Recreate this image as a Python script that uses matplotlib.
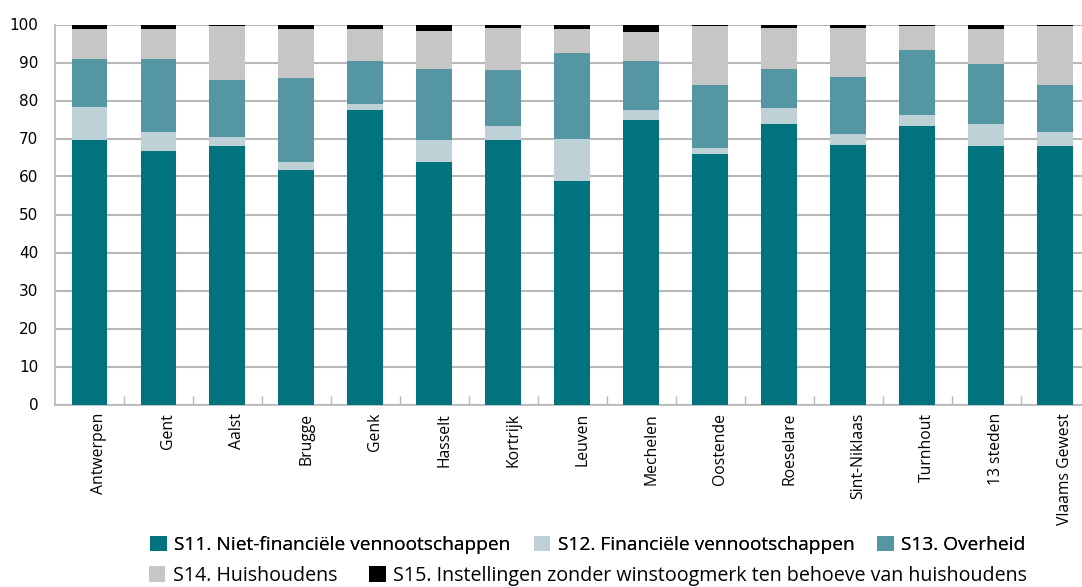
import matplotlib.pyplot as plt
import matplotlib.transforms as mtransforms
import numpy as np

# Data (share in %)
cities = ['Antwerpen', 'Gent', 'Aalst', 'Brugge', 'Genk', 'Hasselt', 'Kortrijk',
          'Leuven', 'Mechelen', 'Oostende', 'Roeselare', 'Sint-Niklaas',
          'Turnhout', '13 steden', 'Vlaams Gewest']
s11 = [69.7, 66.6, 67.9, 61.8, 77.6, 63.9, 69.7, 58.7, 75.0, 65.8, 73.9, 68.2, 73.2, 67.9, 67.9]
s12 = [8.5, 5.0, 2.4, 2.1, 1.6, 5.6, 3.5, 11.3, 2.6, 1.8, 4.0, 3.1, 3.1, 6.0, 3.7]
s13 = [12.6, 19.2, 15.2, 21.9, 11.3, 18.9, 14.7, 22.6, 12.9, 16.6, 10.3, 15.0, 16.9, 15.8, 12.6]
s14 = [8.1, 8.1, 14.0, 12.9, 8.4, 9.8, 11.3, 6.1, 7.4, 15.3, 11.0, 12.9, 6.3, 9.2, 15.3]
s15 = [1.1, 1.1, 0.5, 1.3, 1.1, 1.8, 0.8, 1.3, 2.1, 0.5, 0.8, 0.8, 0.5, 1.1, 0.5]

series = [s11, s12, s13, s14, s15]
labels = ['S11. Niet-financiële vennootschappen', 'S12. Financiële vennootschappen',
          'S13. Overheid', 'S14. Huishoudens',
          'S15. Instellingen zonder winstoogmerk ten behoeve van huishoudens']
colors = ['#00737F', '#BED1D7', '#5496A2', '#C6C6C6', '#000000']

plt.rcParams['font.family'] = ['Open Sans', 'DejaVu Sans']

fig = plt.figure(figsize=(10.82, 5.87), dpi=100)
ax = fig.add_axes([55 / 1082, 1 - 404.5 / 587, 1 - 55 / 1082, 380 / 587])

x = np.arange(len(cities))
bottom = np.zeros(len(cities))
bars = []
for vals, col, lab in zip(series, colors, labels):
    b = ax.bar(x, vals, width=0.52, bottom=bottom, color=col, label=lab, zorder=3)
    bars.append(b)
    bottom += np.array(vals)

ax.set_ylim(0, 100)
ax.set_xlim(-0.5, 14.39)
ax.set_yticks(range(0, 101, 10))
ax.yaxis.grid(True, color='#B8B8B8', linewidth=1.5, zorder=0)
ax.tick_params(axis='y', length=0, pad=12, labelsize=11)
for lbl in ax.get_yticklabels():
    lbl.set_family('DejaVu Sans')

ax.set_xticks(x)
ax.set_xticklabels(cities, rotation=90, fontsize=11.3)
ax.tick_params(axis='x', which='major', length=0, pad=6)
ax.set_xticks(x[:-1] + 0.5, minor=True)
ax.tick_params(axis='x', which='minor', direction='in', length=6.5, color='#B8B8B8', width=1)
offset = mtransforms.ScaledTranslation(10 / 100, 0, fig.dpi_scale_trans)
for lbl in ax.get_xticklabels():
    lbl.set_transform(lbl.get_transform() + offset)

for side in ['top', 'right']:
    ax.spines[side].set_visible(False)
ax.spines['left'].set_color('#B8B8B8')
ax.spines['bottom'].set_color('#B8B8B8')
ax.spines['left'].set_linewidth(1.2)
ax.spines['bottom'].set_linewidth(1.2)

# Legend in two rows, like the original
leg1 = fig.legend(bars[:3], labels[:3], ncol=3, loc='center',
                  bbox_to_anchor=(588 / 1082, 1 - 545 / 587), frameon=False,
                  fontsize=13.8, handlelength=0.85, handleheight=0.85,
                  handletextpad=0.4, columnspacing=1.2)
leg2 = fig.legend(bars[3:], labels[3:], ncol=2, loc='center',
                  bbox_to_anchor=(588 / 1082, 1 - 576 / 587), frameon=False,
                  fontsize=14.1, handlelength=0.85, handleheight=0.85,
                  handletextpad=0.4, columnspacing=1.6)
fig.add_artist(leg1)

plt.savefig('out.png', dpi=100)
